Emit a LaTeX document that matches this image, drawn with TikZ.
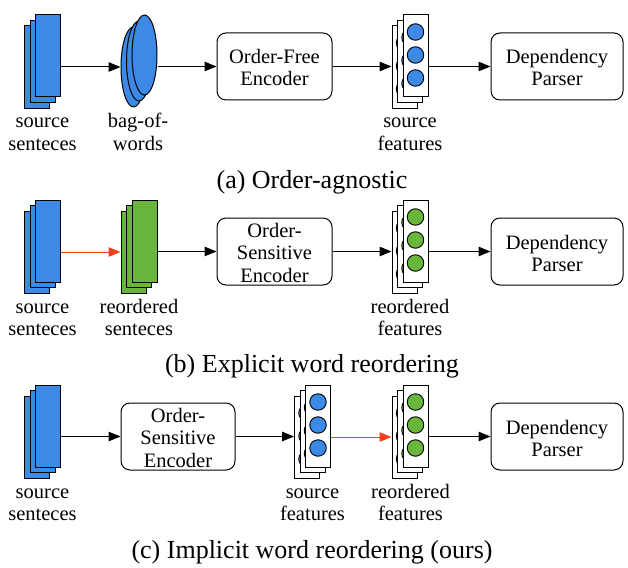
\documentclass[tikz,border=0pt]{standalone}
\usepackage{fontspec}
\setmainfont{Liberation Serif}
\usetikzlibrary{shapes.geometric,arrows.meta}
\definecolor{myblue}{RGB}{60,138,230}
\definecolor{mygreen}{RGB}{104,182,60}
\definecolor{myred}{RGB}{240,64,30}
\tikzset{
 sheet/.style={draw=black, line width=1pt, minimum width=25pt, minimum height=82pt, inner sep=0pt},
 bagell/.style={ellipse, draw=black, fill=myblue, line width=1pt, minimum width=25pt, minimum height=80pt, inner sep=0pt},
 proc/.style={draw=black, line width=1pt, rounded corners=9pt, inner sep=0pt, minimum height=67pt},
 lbl/.style={font=\fontsize{20.5}{22}\selectfont, inner sep=0pt, anchor=base},
 captext/.style={font=\fontsize{26}{30}\selectfont, inner sep=0pt},
 flow/.style={-{Triangle[length=12pt,width=9.5pt]}, line width=1pt, draw=black},
 redflow/.style={-{Triangle[length=12pt,width=9.5pt]}, line width=1pt, draw=myred, fill=myred},
 featdot/.style={circle, draw=black, line width=0.9pt, minimum size=16.5pt, inner sep=0pt}
}
\newcommand\sheetstack[4]{%
 \node[sheet, fill=#4] (#1-b2) at (#2-11,#3+11) {};
 \node[sheet, fill=#4] (#1-b1) at (#2-5.5,#3+5.5) {};
 \node[sheet, fill=#4] (#1-f) at (#2,#3) {};
}
\newcommand\bagstack[3]{%
 \node[bagell] (#1-b2) at (#2-11,#3+12) {};
 \node[bagell] (#1-b1) at (#2-5.5,#3+6) {};
 \node[bagell] (#1-f) at (#2,#3) {};
}
\newcommand\featstack[4]{%
 \foreach \dx/\nm in {11/b2, 5.5/b1, 0/f} {
   \node[sheet, fill=white] (#1-\nm) at (#2-\dx,#3+\dx) {};
   \foreach \k/\dy in {1/-24, 2/-1, 3/22}
     \node[featdot, fill=#4] (#1-\nm-c\k) at (#2-\dx,#3+\dx+\dy) {};
 }
}
% two-line text: name, x, baseline of line 1, line 1, line 2
\newcommand\twolines[5]{%
 \node[lbl] (#1-1) at (#2,#3) {#4};
 \node[lbl] (#1-2) at (#2,#3+22) {#5};
}
\newcommand\threelines[6]{%
 \node[lbl] (#1-1) at (#2,#3) {#4};
 \node[lbl] (#1-2) at (#2,#3+22.5) {#5};
 \node[lbl] (#1-3) at (#2,#3+45) {#6};
}
\begin{document}
\begin{tikzpicture}[x=1pt,y=-1pt]
\useasboundingbox (0,0) rectangle (628,567);
% ---------- (a) ----------
\sheetstack{sa}{48}{56}{myblue}
\bagstack{bag}{144.5}{55}
\node[proc, minimum width=115pt] (enca) at (274.5,66.5) {};
\twolines{enca-t}{274.5}{64}{Order-Free}{Encoder}
\featstack{fa}{415.5}{56}{myblue}
\node[proc, minimum width=132pt] (dpa) at (557,66.5) {};
\twolines{dpa-t}{557}{64}{Dependency}{Parser}
\draw[flow] (sa-f.east |- bag-b2.west) -- (bag-b2.west);
\draw[flow] (bag-f.east |- enca.west) -- (enca.west);
\draw[flow] (enca.east) -- (enca.east -| fa-b2.west);
\draw[flow] (fa-f.east |- dpa.west) -- (dpa.west);
\twolines{la1}{42.5}{128}{source}{senteces}
\twolines{la2}{138}{128}{bag-of-}{words}
\twolines{la3}{410}{128}{source}{features}
\node[captext] (capa) at (312,182) {(a) Order-agnostic};
% ---------- (b) ----------
\sheetstack{sb}{48}{241}{myblue}
\sheetstack{rb}{144.5}{241}{mygreen}
\node[proc, minimum width=115pt] (encb) at (274.5,251.5) {};
\threelines{encb-t}{274.5}{237}{Order-}{Sensitive}{Encoder}
\featstack{fb}{415.5}{241}{mygreen}
\node[proc, minimum width=132pt] (dpb) at (557,251.5) {};
\twolines{dpb-t}{557}{249}{Dependency}{Parser}
\draw[redflow] (sb-f.east |- rb-b2.west) -- (rb-b2.west);
\draw[flow] (rb-f.east |- encb.west) -- (encb.west);
\draw[flow] (encb.east) -- (encb.east -| fb-b2.west);
\draw[flow] (fb-f.east |- dpb.west) -- (dpb.west);
\twolines{lb1}{42.5}{313}{source}{senteces}
\twolines{lb2}{139}{313}{reordered}{senteces}
\twolines{lb3}{410}{313}{reordered}{features}
\node[captext] (capb) at (312,366) {(b) Explicit word reordering};
% ---------- (c) ----------
\sheetstack{sc}{48}{426}{myblue}
\node[proc, minimum width=114pt] (encc) at (178,436.5) {};
\threelines{encc-t}{178}{422}{Order-}{Sensitive}{Encoder}
\featstack{fc}{318}{426}{myblue}
\featstack{gc}{415.5}{426}{mygreen}
\node[proc, minimum width=132pt] (dpc) at (557,436.5) {};
\twolines{dpc-t}{557}{434}{Dependency}{Parser}
\draw[flow] (sc-f.east |- encc.west) -- (encc.west);
\draw[flow] (encc.east) -- (encc.east -| fc-b2.west);
\draw[redflow] (fc-f.east |- gc-b2.west) -- (gc-b2.west);
\draw[flow] (gc-f.east |- dpc.west) -- (dpc.west);
\twolines{lc1}{42.5}{498}{source}{senteces}
\twolines{lc2}{312.5}{498}{source}{features}
\twolines{lc3}{410.5}{498}{reordered}{features}
\node[captext] (capc) at (312,552) {(c) Implicit word reordering (ours)};
\end{tikzpicture}
\end{document}
